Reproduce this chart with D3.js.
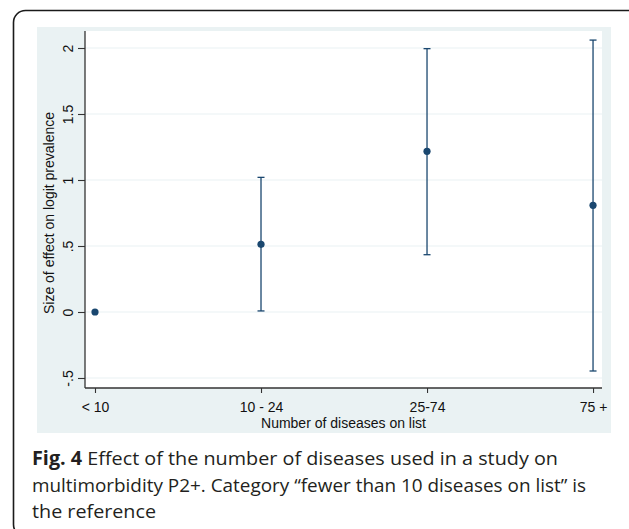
<!DOCTYPE html>
<html>
<head>
<meta charset="utf-8">
<script src="https://cdn.jsdelivr.net/npm/d3@7"></script>
<style>
  html, body { margin: 0; padding: 0; background: #fff; }
  svg { display: block; }
</style>
</head>
<body>
<svg id="chart" width="629" height="529"></svg>
<script>
// ---- data ----
const categories = ["< 10", "10 - 24", "25-74", "75 +"];
const estimates  = [0, 0.513, 1.217, 0.808];
const lowerCI    = [null, 0.008, 0.434, -0.447];
const upperCI    = [null, 1.02, 1.995, 2.06];
const yTickValues = [-0.5, 0, 0.5, 1, 1.5, 2];
const yTickLabels = ["-.5", "0", ".5", "1", "1.5", "2"];
const yTitle = "Size of effect on logit prevalence";
const xTitle = "Number of diseases on list";
const captionLines = [
  [{t: "Fig. 4", b: true}, {t: " Effect of the number of diseases used in a study on", b: false}],
  [{t: "multimorbidity P2+. Category \u201cfewer than 10 diseases on list\u201d is", b: false}],
  [{t: "the reference", b: false}]
];

// ---- layout ----
const svg = d3.select("#chart");
const plot = {left: 85, right: 602, top: 31, bottom: 388};
const navy = "#1a476f";
const panelColor = "#eaf2f3";
const font = "'Liberation Sans', Arial, sans-serif";

// outer rounded frame
svg.append("rect")
  .attr("x", 13.5).attr("y", 10.5).attr("width", 640).attr("height", 526)
  .attr("rx", 12).attr("fill", "none").attr("stroke", "#1a1a1a").attr("stroke-width", 1.6);

// graph region panel
svg.append("rect")
  .attr("x", 37).attr("y", 27).attr("width", 611 - 37).attr("height", 433 - 27)
  .attr("fill", panelColor);

// plot region
svg.append("rect")
  .attr("x", plot.left).attr("y", plot.top)
  .attr("width", plot.right - plot.left).attr("height", plot.bottom - plot.top)
  .attr("fill", "#fff");

const x = d3.scaleLinear().domain([0.9398, 4.054]).range([plot.left, plot.right]);
const y = d3.scaleLinear().domain([-0.5758, 2.1288]).range([plot.bottom, plot.top]);
const catPos = categories.map((c, i) => i + 1);

// gridlines
svg.append("g").selectAll("line").data(yTickValues).join("line")
  .attr("x1", plot.left).attr("x2", plot.right)
  .attr("y1", d => y(d)).attr("y2", d => y(d))
  .attr("stroke", panelColor).attr("stroke-width", 1.2);

// y axis
const yAxis = d3.axisLeft(y).tickValues(yTickValues)
  .tickFormat((d, i) => yTickLabels[i]).tickSize(7).tickPadding(3);
const gy = svg.append("g").attr("transform", `translate(${plot.left},0)`).call(yAxis);
gy.select(".domain").attr("d", `M0,${plot.top}V${plot.bottom}`).attr("stroke", "#333").attr("stroke-width", 1.3);
gy.selectAll(".tick line").attr("stroke", "#333").attr("stroke-width", 1.1);
gy.selectAll(".tick text")
  .attr("font-family", font).attr("font-size", 14).attr("fill", "#111")
  .attr("x", null).attr("dy", null)
  .attr("text-anchor", "middle")
  .attr("transform", "translate(-12.3,0) rotate(-90)");

// x axis
const xAxis = d3.axisBottom(x).tickValues(catPos)
  .tickFormat((d, i) => categories[i]).tickSize(5).tickPadding(6);
const gx = svg.append("g").attr("transform", `translate(0,${plot.bottom})`).call(xAxis);
gx.select(".domain").attr("d", `M${plot.left},0H${plot.right}`).attr("stroke", "#333").attr("stroke-width", 1.3);
gx.selectAll(".tick line").attr("stroke", "#333").attr("stroke-width", 1.1);
gx.selectAll(".tick text")
  .attr("font-family", font).attr("font-size", 14).attr("fill", "#111")
  .attr("dy", null).attr("y", 23.5);

// axis titles
svg.append("text")
  .attr("transform", `translate(53.5,${(y(-0.5) + y(2)) / 2}) rotate(-90)`)
  .attr("text-anchor", "middle")
  .attr("font-family", font).attr("font-size", 14).attr("fill", "#111")
  .text(yTitle);
svg.append("text")
  .attr("x", (plot.left + plot.right) / 2).attr("y", 428)
  .attr("text-anchor", "middle")
  .attr("font-family", font).attr("font-size", 14).attr("fill", "#111")
  .text(xTitle);

// error bars
const ciData = catPos.map((p, i) => ({p, lo: lowerCI[i], hi: upperCI[i], est: estimates[i]}))
  .filter(d => d.lo !== null);
const eb = svg.append("g").attr("stroke", navy).attr("stroke-width", 1.3).attr("fill", "none");
eb.selectAll("line.v").data(ciData).join("line").attr("class", "v")
  .attr("x1", d => x(d.p)).attr("x2", d => x(d.p))
  .attr("y1", d => y(d.lo)).attr("y2", d => y(d.hi));
eb.selectAll("line.cl").data(ciData).join("line").attr("class", "cl")
  .attr("x1", d => x(d.p) - 3.5).attr("x2", d => x(d.p) + 3.5)
  .attr("y1", d => y(d.lo)).attr("y2", d => y(d.lo));
eb.selectAll("line.ch").data(ciData).join("line").attr("class", "ch")
  .attr("x1", d => x(d.p) - 3.5).attr("x2", d => x(d.p) + 3.5)
  .attr("y1", d => y(d.hi)).attr("y2", d => y(d.hi));

// points
svg.append("g").selectAll("circle").data(catPos).join("circle")
  .attr("cx", d => x(d)).attr("cy", (d, i) => y(estimates[i]))
  .attr("r", 3.6).attr("fill", navy);

// caption
const capFont = "'Open Sans', 'Noto Sans', sans-serif";
const capBaselines = [465, 491.5, 518];
const capWidths = [526, 554, 124];
captionLines.forEach((line, li) => {
  const t = svg.append("text")
    .attr("x", 32).attr("y", capBaselines[li])
    .attr("font-family", capFont).attr("font-size", 19).attr("fill", "#231f20")
    .attr("textLength", capWidths[li]).attr("lengthAdjust", "spacingAndGlyphs");
  line.forEach(seg => {
    t.append("tspan").attr("font-weight", seg.b ? "bold" : "normal").text(seg.t);
  });
});
</script>
</body>
</html>
